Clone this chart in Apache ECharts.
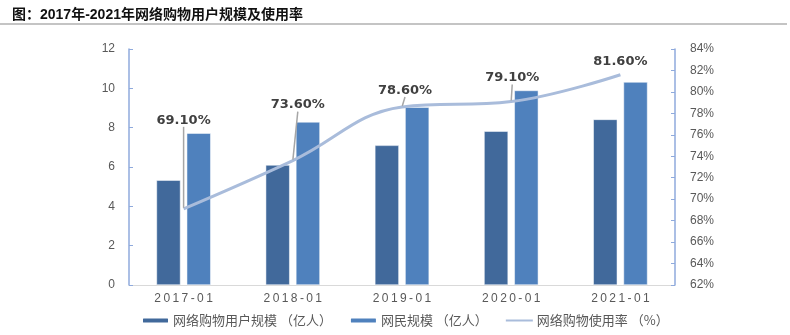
<!DOCTYPE html>
<html>
<head>
<meta charset="utf-8">
<script src="https://cdn.jsdelivr.net/npm/echarts@6/dist/echarts.min.js"></script>
<style>html,body{margin:0;padding:0;background:#fff;}#c{width:790px;height:335px;}</style>
</head>
<body>
<div id="c"></div>
<script>
const categories = ['2017-01', '2018-01', '2019-01', '2020-01', '2021-01'];
const shoppingUsers = [5.33, 6.10, 7.10, 7.82, 8.42];
const netizens = [7.72, 8.29, 9.04, 9.89, 10.32];
const usageRate = [69.1, 73.6, 78.6, 79.1, 81.6];
const seriesNames = ['网络购物用户规模 （亿人）', '网民规模 （亿人）', '网络购物使用率 （%）'];
const titleText = '图：2017年-2021年网络购物用户规模及使用率';

// label offsets (layout only)
const labelDx = [0, 5, 3, 1, 0];
const labelDy = [-76, -43, -4, -11, -1];
const showLeader = [true, true, true, true, false];

const font = '"Liberation Sans", "Noto Sans CJK SC", sans-serif';
const chart = echarts.init(document.getElementById('c'), null, {renderer: 'canvas'});
chart.setOption({
  animation: false,
  backgroundColor: '#fff',
  title: {
    text: titleText,
    left: 7, top: 3,
    textStyle: {fontSize: 14, fontWeight: 'bold', color: '#111', fontFamily: '"Liberation Sans", "Noto Sans CJK SC", sans-serif'}
  },
  graphic: [{
    type: 'rect', left: 0, top: 23,
    shape: {width: 787, height: 2},
    style: {fill: '#c4c4c4'}
  }],
  legend: {
    bottom: 3, left: 136,
    itemWidth: 27, itemHeight: 6, itemGap: 17,
    textStyle: {fontSize: 13, color: '#595959', fontFamily: '"Noto Sans CJK SC", sans-serif', padding: [0, 0, 0, -1]},
    data: seriesNames
  },
  grid: {left: 129, right: 115, top: 49, bottom: 50},
  xAxis: {
    type: 'category', data: categories,
    axisLine: {lineStyle: {color: '#D9D9D9', width: 1}},
    axisTick: {show: false},
    axisLabel: {color: '#595959', fontSize: 12, margin: 8, fontFamily: font,
      formatter: v => v.split('').join('\u2009')}
  },
  yAxis: [{
    type: 'value', min: 0, max: 12, interval: 2,
    axisLine: {show: true, lineStyle: {color: '#8FAADC', width: 1.5}},
    axisTick: {show: true, inside: true, length: 4, lineStyle: {color: '#8FAADC'}},
    axisLabel: {color: '#595959', fontSize: 12, margin: 14, fontFamily: font},
    splitLine: {show: false}
  }, {
    type: 'value', min: 62, max: 84, interval: 2,
    axisLine: {show: true, lineStyle: {color: '#8FAADC', width: 1.5}},
    axisTick: {show: true, inside: true, length: 4, lineStyle: {color: '#8FAADC'}},
    axisLabel: {color: '#595959', fontSize: 12, margin: 15, fontFamily: font, formatter: '{value}%'},
    splitLine: {show: false}
  }],
  series: [{
    name: seriesNames[0], type: 'bar', data: shoppingUsers,
    barWidth: 24, barGap: '26%',
    itemStyle: {color: '#41699B', borderColor: '#fff', borderWidth: 0.5}
  }, {
    name: seriesNames[1], type: 'bar', data: netizens,
    barWidth: 24,
    itemStyle: {color: '#4F81BD', borderColor: '#fff', borderWidth: 0.5}
  }, {
    name: seriesNames[2], type: 'line', yAxisIndex: 1,
    data: usageRate.map((v, i) => ({value: v, labelLine: {show: showLeader[i]}})),
    smooth: 0.4, symbol: 'circle', symbolSize: 2, showSymbol: true,
    lineStyle: {color: '#A9BCDB', width: 3},
    itemStyle: {color: 'rgba(0,0,0,0)', borderWidth: 0},
    label: {
      show: true, position: 'top', distance: 5,
      formatter: p => p.value.toFixed(2) + '%',
      fontSize: 13, fontWeight: 'bold', color: '#404040', fontFamily: '"DejaVu Sans", sans-serif'
    },
    labelLine: {show: true, lineStyle: {color: '#A6A6A6', width: 1.5}},
    labelLayout: p => ({dx: labelDx[p.dataIndex], dy: labelDy[p.dataIndex]}),
    z: 5
  }]
});
</script>
</body>
</html>
